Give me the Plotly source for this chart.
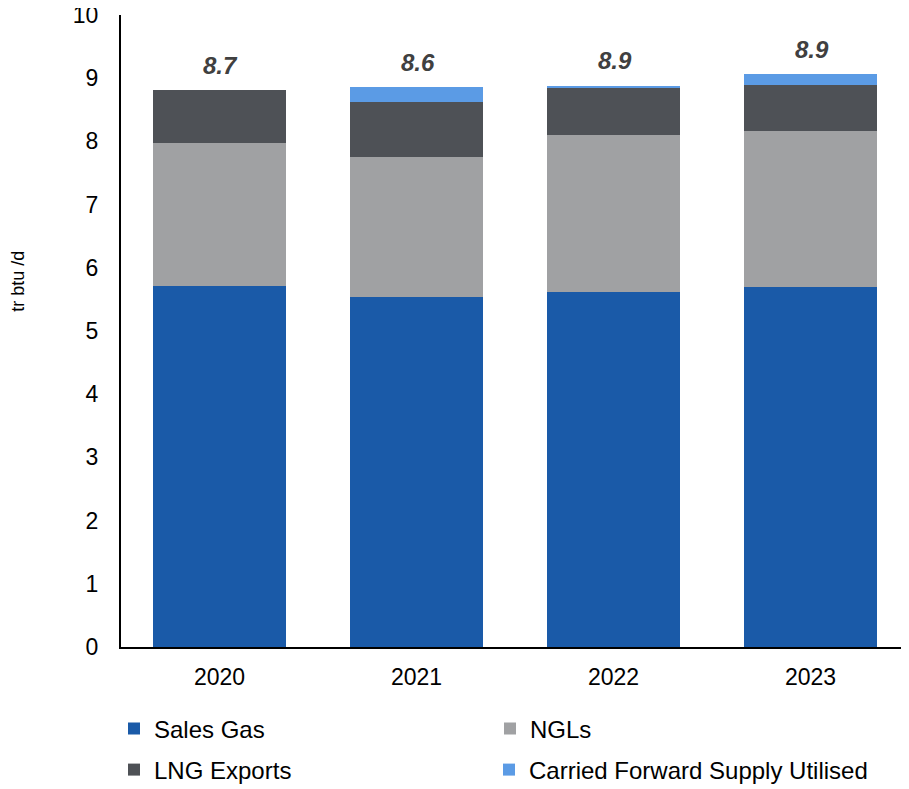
import plotly.graph_objects as go

years = ["2020", "2021", "2022", "2023"]
sales_gas = [5.72, 5.54, 5.62, 5.69]
ngls = [2.25, 2.22, 2.48, 2.47]
lng_exports = [0.84, 0.87, 0.75, 0.74]
carried_fwd = [0.0, 0.23, 0.03, 0.16]
total_labels = ["8.7", "8.6", "8.9", "8.9"]

FONT = "Liberation Sans, Arial, sans-serif"

series = [
    ("Sales Gas", sales_gas, "#1A5AA8", "legend"),
    ("NGLs", ngls, "#A0A1A3", "legend"),
    ("LNG Exports", lng_exports, "#4E5156", "legend2"),
    ("Carried Forward Supply Utilised", carried_fwd, "#5B9BE5", "legend3"),
]

fig = go.Figure()
for name, vals, col, lg in series:
    fig.add_trace(go.Bar(x=years, y=vals, name=name, marker_color=col,
                         marker_line_width=0, legend=lg))

tops = [a + b + c + d for a, b, c, d in zip(sales_gas, ngls, lng_exports, carried_fwd)]
# category axis: annotation x given as category index
for i, (t, lab) in enumerate(zip(tops, total_labels)):
    fig.add_annotation(x=i, y=t, xref="x", yref="y", text=lab,
                       showarrow=False, yshift=25, xshift=1,
                       font=dict(family=FONT, size=24, color="#404040",
                                 weight="bold", style="italic"))

# page body adds an 8px offset; figure is 901x781 placed at (8,8)
fig.add_annotation(xref="paper", yref="paper", x=-0.131, y=0.579,
                   xanchor="center", yanchor="middle", text="tr btu /d",
                   textangle=-90, showarrow=False,
                   font=dict(family=FONT, size=18, color="#000"))

leg_common = dict(orientation="h", xref="container",
                  xanchor="left", yref="container", yanchor="middle",
                  font=dict(family=FONT, size=24, color="#000"),
                  entrywidthmode="pixels",
                  bgcolor="rgba(0,0,0,0)", traceorder="normal")

fig.update_layout(
    width=901, height=781,
    margin=dict(l=113, r=0, t=7, b=142, autoexpand=False),
    barmode="stack", bargap=0.325,
    plot_bgcolor="white", paper_bgcolor="white",
    font=dict(family=FONT, size=23, color="#000"),
    legend=dict(x=106 / 901, y=1 - 721 / 781, entrywidth=331, **leg_common),
    legend2=dict(x=106 / 901, y=1 - 762 / 781, entrywidth=0, **leg_common),
    legend3=dict(x=481 / 901, y=1 - 762 / 781, entrywidth=0, **leg_common),
    xaxis=dict(type="category", categoryorder="array", categoryarray=years,
               range=[-0.5, 3.5],
               showline=True, linecolor="#000", linewidth=2,
               ticks="outside", ticklen=8, tickcolor="rgba(0,0,0,0)",
               tickfont=dict(size=23), showgrid=False),
    yaxis=dict(range=[0, 10], dtick=1, showline=True, linecolor="#000",
               linewidth=2, ticks="outside", ticklen=16,
               tickcolor="rgba(0,0,0,0)", ticklabeloverflow="allow",
               tickfont=dict(size=23), showgrid=False, zeroline=False),
)

fig.write_html("out.html")
